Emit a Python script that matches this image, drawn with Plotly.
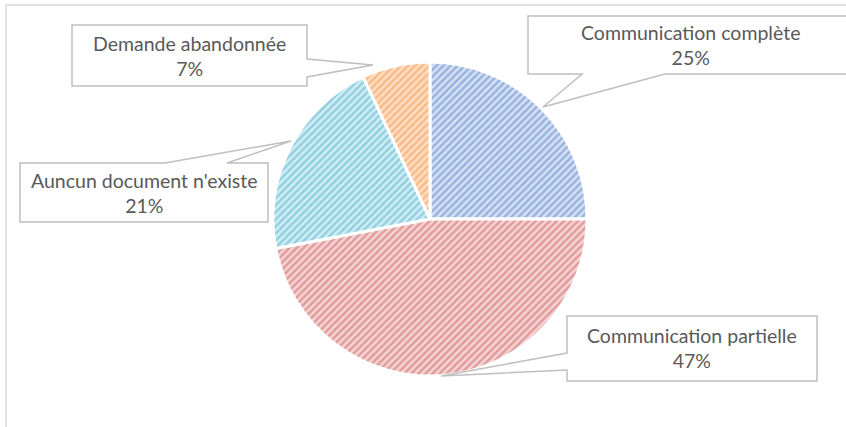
import plotly.graph_objects as go

labels = ["Communication complète", "Communication partielle", "Auncun document n'existe", "Demande abandonnée"]
values = [25, 47, 21, 7]
fg_colors = ["#5C86C9", "#D0605F", "#4FB3CC", "#F79646"]
bg_colors = ["#D6E1F3", "#F4D5D5", "#D2EDF4", "#FDDFC7"]

W, H = 846, 427


def px(x):
    return x / W


def py(y):
    return 1 - y / H


def path(points):
    s = "M " + " L ".join(f"{px(x):.5f},{py(y):.5f}" for x, y in points) + " Z"
    return s


cx, cy, r = 430, 219, 157

fig = go.Figure(go.Pie(
    labels=labels,
    values=values,
    sort=False,
    direction="clockwise",
    rotation=0,
    textinfo="none",
    hoverinfo="label+percent",
    showlegend=False,
    marker=dict(
        colors=bg_colors,
        line=dict(color="white", width=3),
        pattern=dict(shape="/", fgcolor=fg_colors, bgcolor=bg_colors,
                     size=5, solidity=0.5, fillmode="overlay"),
    ),
    domain=dict(x=[px(cx - r), px(cx + r)], y=[py(cy + r), py(cy - r)]),
))

callouts = [
    # (polygon points, text center)
    ([(528, 16), (852, 16), (852, 74), (665, 74), (543, 107), (582, 74), (528, 74)], (690, 45)),
    ([(567, 316), (817, 316), (817, 381), (567, 381), (567, 370), (441, 376), (567, 353)], (692, 348)),
    ([(20, 163), (165, 163), (291, 141), (227, 163), (268, 163), (268, 222), (20, 222)], (144, 193)),
    ([(72, 25), (307, 25), (307, 59), (373, 65), (307, 77), (307, 86), (72, 86)], (189, 56)),
]

shapes = [dict(type="rect", xref="paper", yref="paper", x0=px(6), x1=px(950), y0=py(600), y1=py(5),
               line=dict(color="#D9D9D9", width=1.5), fillcolor="rgba(0,0,0,0)", layer="below")]
annotations = []
for (pts, (tx, ty)), lab, val in zip(callouts, labels, values):
    shapes.append(dict(type="path", xref="paper", yref="paper", path=path(pts),
                       line=dict(color="#BFBFBF", width=1.5), fillcolor="white", layer="above"))
    annotations.append(dict(x=px(tx), y=py(ty), xref="paper", yref="paper",
                            text=f"{lab}<br>{val}%", showarrow=False,
                            xanchor="center", yanchor="middle",
                            font=dict(family="Lato", size=19.5, color="#595959")))

fig.update_layout(
    width=W, height=H,
    margin=dict(l=0, r=0, t=0, b=0),
    paper_bgcolor="white",
    plot_bgcolor="white",
    shapes=shapes,
    annotations=annotations,
)

fig.write_html("out.html")
